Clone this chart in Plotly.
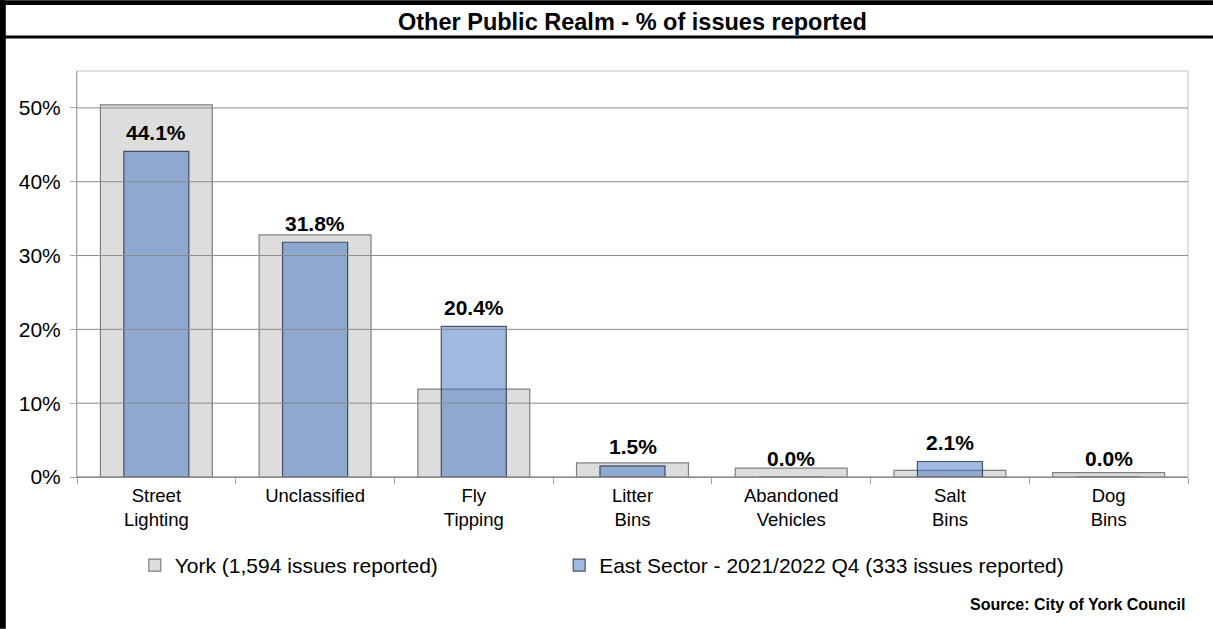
import plotly.graph_objects as go

categories = ["Street<br>Lighting", "Unclassified", "Fly<br>Tipping", "Litter<br>Bins",
              "Abandoned<br>Vehicles", "Salt<br>Bins", "Dog<br>Bins"]
york_values = [50.4, 32.8, 11.9, 1.9, 1.2, 0.9, 0.6]
east_values = [44.1, 31.8, 20.4, 1.5, 0.0, 2.1, 0.0]
york_name = "York (1,594 issues reported)"
east_name = "East Sector - 2021/2022 Q4 (333 issues reported)"
y_ticks = [0, 10, 20, 30, 40, 50]
y_tick_labels = ["0%", "10%", "20%", "30%", "40%", "50%"]
title_text = "Other Public Realm - % of issues reported"
source_text = "Source: City of York Council"

FONT = "Liberation Sans, Arial, sans-serif"

fig = go.Figure()
fig.add_trace(go.Bar(
    x=categories, y=york_values, name=york_name, width=0.705,
    marker=dict(color="#DDDDDD", line=dict(color="#7F7F7F", width=1.2)),
    hoverinfo="skip", legend="legend",
))
fig.add_trace(go.Bar(
    x=categories, y=east_values, name=east_name, width=0.41,
    marker=dict(color="rgba(65,115,196,0.5)", line=dict(color="rgba(30,40,60,0.75)", width=1.2)),
    hoverinfo="skip", legend="legend2",
))

# value labels above East Sector bars
for cat, v in zip(categories, east_values):
    fig.add_annotation(x=cat, y=v, xref="x", yref="y", text=f"<b>{v:.1f}%</b>",
                       showarrow=False, yanchor="middle", yshift=19,
                       font=dict(family=FONT, size=21, color="black"))

# gridlines drawn above bars
for t in y_ticks:
    fig.add_shape(type="line", xref="paper", yref="y", x0=0, x1=1, y0=t, y1=t,
                  line=dict(color="#8C8C8C", width=1), layer="above")

# frame / title bar (kept fully inside the figure)
fig.add_shape(type="rect", xref="paper", yref="paper", x0=-0.0693, x1=1.0225, y0=1.1625, y1=1.1745,
              line=dict(width=0), fillcolor="black", layer="above")
fig.add_shape(type="line", xref="paper", yref="paper", x0=-0.0693, x1=1.0225, y0=1.084, y1=1.084,
              line=dict(color="black", width=3))
fig.add_shape(type="rect", xref="paper", yref="paper", x0=-0.0693, x1=-0.0641, y0=-0.374, y1=1.1745,
              line=dict(width=0), fillcolor="black", layer="above")

fig.add_annotation(text=f"<b>{title_text}</b>", xref="paper", yref="paper",
                   x=0.5, y=1.121, showarrow=False, xanchor="center", yanchor="middle",
                   font=dict(family=FONT, size=23.5, color="black"))
fig.add_annotation(text=f"<b>{source_text}</b>", xref="paper", yref="paper",
                   x=0.9995, y=-0.313, showarrow=False, xanchor="right", yanchor="middle",
                   font=dict(family=FONT, size=16, color="black"))

legend_common = dict(orientation="h", yanchor="middle", y=-0.218, xanchor="left",
                     font=dict(family=FONT, size=21, color="black"),
                     bgcolor="rgba(0,0,0,0)", itemwidth=30)

fig.update_layout(
    width=1213, height=629,
    margin=dict(l=77, r=25, t=71, b=152),
    barmode="overlay",
    plot_bgcolor="white", paper_bgcolor="white",
    font=dict(family=FONT, size=19, color="black"),
    showlegend=True,
    legend=dict(x=0.052, **legend_common),
    legend2=dict(x=0.434, **legend_common),
    xaxis=dict(showline=True, linecolor="#8C8C8C", linewidth=1, mirror=False,
               ticks="outside", tickson="boundaries", ticklen=6, tickcolor="#A6A6A6",
               ticklabelstandoff=2,
               showgrid=False, tickfont=dict(family=FONT, size=18.5, color="black")),
    yaxis=dict(range=[0, 55], tickvals=y_ticks, ticktext=y_tick_labels,
               showgrid=False, zeroline=False, showline=True, linecolor="#A6A6A6",
               ticks="outside", ticklen=6, tickcolor="#A6A6A6", ticklabelstandoff=5,
               tickfont=dict(family=FONT, size=21, color="black")),
)
# plot area border
fig.add_shape(type="rect", xref="paper", yref="paper", x0=0, x1=1, y0=0, y1=1,
              line=dict(color="#BFBFBF", width=1), layer="below")

fig.write_html("out.html", config={"displayModeBar": False},
               post_script="document.body.style.margin='0';")
